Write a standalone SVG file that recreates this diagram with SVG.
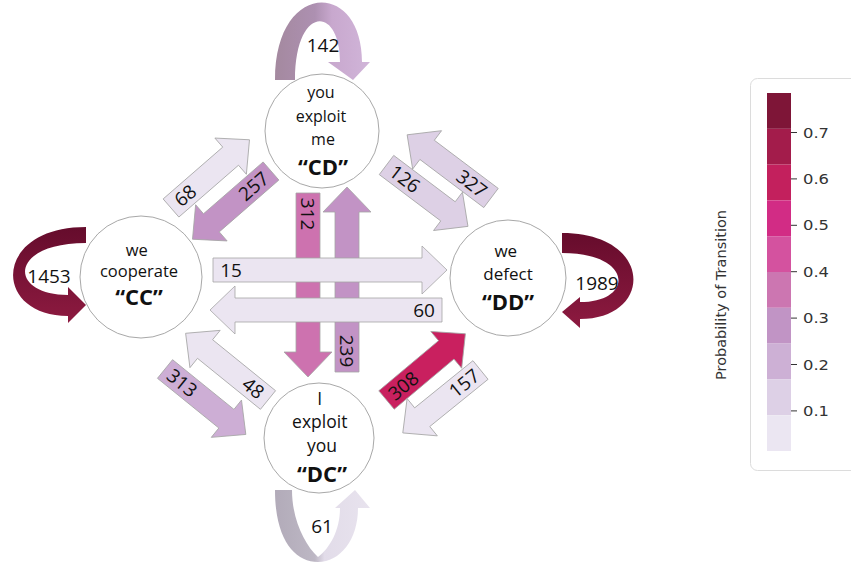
<svg xmlns="http://www.w3.org/2000/svg" width="851" height="562" viewBox="0 0 851 562">
  <defs>
    <!-- shading for the self-loop arrows -->
    <linearGradient id="gCD" x1="275" y1="0" x2="370" y2="0" gradientUnits="userSpaceOnUse">
      <stop offset="0" stop-color="#a4899f"/>
      <stop offset="0.42" stop-color="#ad90b1"/>
      <stop offset="0.6" stop-color="#c8a8ce"/>
      <stop offset="1" stop-color="#d1b5d9"/>
    </linearGradient>
    <linearGradient id="gCC" x1="0" y1="227" x2="0" y2="323" gradientUnits="userSpaceOnUse">
      <stop offset="0" stop-color="#650c2c"/>
      <stop offset="1" stop-color="#8d1a40"/>
    </linearGradient>
    <linearGradient id="gDD" x1="0" y1="233" x2="0" y2="328" gradientUnits="userSpaceOnUse">
      <stop offset="0" stop-color="#660c2c"/>
      <stop offset="1" stop-color="#8d1a40"/>
    </linearGradient>
    <linearGradient id="gDC" x1="275" y1="0" x2="370" y2="0" gradientUnits="userSpaceOnUse">
      <stop offset="0" stop-color="#b2abb9"/>
      <stop offset="0.42" stop-color="#bdb7c4"/>
      <stop offset="0.52" stop-color="#e2dce9"/>
      <stop offset="1" stop-color="#e8e3ee"/>
    </linearGradient>
  </defs>
  <style>
    .arr { stroke: #a5a5a5; stroke-width: 0.8; }
    .c1 { fill: #ebe5f1; }
    .c2 { fill: #ddd0e5; }
    .c3 { fill: #cdaed5; }
    .c4 { fill: #c293c5; }
    .c5 { fill: #cd72af; }
    .c8 { fill: #c9205f; }
    .lbl { font-family: "Open Sans", "Liberation Sans", sans-serif; font-size: 19px; fill: #111; text-anchor: middle; }
    .node circle { fill: #fff; stroke: #a8a8a8; stroke-width: 1; }
    .nt { font-family: "Open Sans", "Liberation Sans", sans-serif; fill: #111; text-anchor: middle; }
    .big { font-weight: bold; font-size: 22px; }
    .tick { stroke: #333; stroke-width: 1; }
    .tl { font-family: "DejaVu Sans", sans-serif; font-size: 14px; fill: #333; }
  </style>

  <g id="connectors">
    <!-- self loops -->
    <g id="loop-CD">
      <path fill="url(#gCD)" d="M275,80 C275,-20 362,-20 362,62 L370,62 L353,80 L328,62 L340,62 C340,5 295,5 295,80 Z"/>
      <text class="lbl" x="323" y="52">142</text>
    </g>
    <g id="loop-CC">
      <path fill="url(#gCC)" d="M86,227 C-8,227 -8,316 68,316 L68,323 L86,305 L68,287 L68,295 C8,295 8,243 86,243 Z"/>
      <text class="lbl" x="49" y="283">1453</text>
    </g>
    <g id="loop-DD">
      <path fill="url(#gDD)" d="M562,233 C654,233 654,319 580,319 L580,328 L562,312 L580,297 L580,302 C634,302 634,253 562,253 Z"/>
      <text class="lbl" x="597" y="290">1989</text>
    </g>
    <g id="loop-DC">
      <path fill="url(#gDC)" d="M275,490 C275,540 295,562 318,562 C340,562 358,540 358,508 L370,508 L355,490 L335,508 L340,508 C340,530 330,548 318,557 C305,545 292,520 292,490 Z"/>
      <text class="lbl" x="322" y="533">61</text>
    </g>

    <!-- vertical transitions -->
    <g transform="translate(308,193) rotate(90)">
      <path class="arr c5" d="M0,-12H159V-24L184,0L159,24V12H0Z"/>
      <text class="lbl" transform="translate(21,0)" y="6.8">312</text>
    </g>
    <g transform="translate(347,372) rotate(-90)">
      <path class="arr c4" d="M0,-12H160V-24L185,0L160,24V12H0Z"/>
      <text class="lbl" transform="translate(21,0) rotate(180)" y="6.8">239</text>
    </g>

    <!-- horizontal transitions -->
    <g transform="translate(213,270)">
      <path class="arr c1" d="M0,-12H209V-24L234,0L209,24V12H0Z"/>
      <text class="lbl" transform="translate(18,0)" y="6.8">15</text>
    </g>
    <g transform="translate(442,310) rotate(180)">
      <path class="arr c1" d="M0,-12H207V-24L232,0L207,24V12H0Z"/>
      <text class="lbl" transform="translate(18,0) rotate(180)" y="6.8">60</text>
    </g>

    <!-- diagonal transitions -->
    <g transform="translate(171,208) rotate(-41)">
      <path class="arr c1" d="M0,-12H79V-24L104,0L79,24V12H0Z"/>
      <text class="lbl" transform="translate(19,0)" y="6.8">68</text>
    </g>
    <g transform="translate(271,171) rotate(139)">
      <path class="arr c4" d="M0,-12H79V-24L104,0L79,24V12H0Z"/>
      <text class="lbl" transform="translate(23,0) rotate(180)" y="6.8">257</text>
    </g>
    <g transform="translate(386.5,165) rotate(37)">
      <path class="arr c2" d="M0,-12H77V-24L102,0L77,24V12H0Z"/>
      <text class="lbl" transform="translate(23,0)" y="6.8">126</text>
    </g>
    <g transform="translate(491,198) rotate(217)">
      <path class="arr c2" d="M0,-12H80V-24L105,0L80,24V12H0Z"/>
      <text class="lbl" transform="translate(24,0) rotate(180)" y="6.8">327</text>
    </g>
    <g transform="translate(165,369) rotate(39)">
      <path class="arr c3" d="M0,-12H79V-24L104,0L79,24V12H0Z"/>
      <text class="lbl" transform="translate(22,0)" y="6.8">313</text>
    </g>
    <g transform="translate(268,400) rotate(219)">
      <path class="arr c1" d="M0,-12H81V-24L106,0L81,24V12H0Z"/>
      <text class="lbl" transform="translate(19,0) rotate(180)" y="6.8">48</text>
    </g>
    <g transform="translate(386.5,400) rotate(-40)">
      <path class="arr c8" d="M0,-12H78V-24L103,0L78,24V12H0Z"/>
      <text class="lbl" transform="translate(22,0)" y="6.8">308</text>
    </g>
    <g transform="translate(480.5,370) rotate(141)">
      <path class="arr c1" d="M0,-12H75V-24L100,0L75,24V12H0Z"/>
      <text class="lbl" transform="translate(21,0) rotate(180)" y="6.8">157</text>
    </g>
  </g>

  <!-- states -->
  <g id="CD" class="node">
    <circle cx="322" cy="131" r="57"/>
    <text class="nt" font-size="16">
      <tspan x="323" y="98">you</tspan>
      <tspan x="323" y="122">exploit</tspan>
      <tspan x="323" y="145">me</tspan>
    </text>
    <text class="nt big" x="323" y="175">“CD”</text>
  </g>
  <g id="CC" class="node">
    <circle cx="141" cy="277" r="61"/>
    <text class="nt" font-size="16.5">
      <tspan x="139" y="256">we</tspan>
      <tspan x="139" y="277">cooperate</tspan>
    </text>
    <text class="nt big" x="139" y="305">“CC”</text>
  </g>
  <g id="DD" class="node">
    <circle cx="508" cy="278" r="58"/>
    <text class="nt" font-size="17">
      <tspan x="508" y="257">we</tspan>
      <tspan x="508" y="280">defect</tspan>
    </text>
    <text class="nt big" x="508" y="310">“DD”</text>
  </g>
  <g id="DC" class="node">
    <circle cx="319" cy="438" r="55"/>
    <text class="nt" font-size="17.5">
      <tspan x="322" y="405">I</tspan>
      <tspan x="322" y="428">exploit</tspan>
      <tspan x="322" y="452">you</tspan>
    </text>
    <text class="nt big" x="322" y="482">“DC”</text>
  </g>

  <!-- colour scale -->
  <g id="colorbar">
    <rect x="750.5" y="78.5" width="115" height="392" rx="7" fill="none" stroke="#dcdcdc"/>
    <rect x="767" y="93" width="24" height="35.8" fill="#7e1537"/>
    <rect x="767" y="128.8" width="24" height="35.8" fill="#a31c4b"/>
    <rect x="767" y="164.6" width="24" height="35.8" fill="#c3205d"/>
    <rect x="767" y="200.4" width="24" height="35.8" fill="#d22c85"/>
    <rect x="767" y="236.2" width="24" height="35.8" fill="#d4529f"/>
    <rect x="767" y="272" width="24" height="35.8" fill="#cc76b1"/>
    <rect x="767" y="307.8" width="24" height="35.8" fill="#c194c5"/>
    <rect x="767" y="343.6" width="24" height="35.8" fill="#cdb0d5"/>
    <rect x="767" y="379.4" width="24" height="35.8" fill="#ddd0e6"/>
    <rect x="767" y="415.2" width="24" height="35.8" fill="#ebe6f2"/>
    <g class="tick">
      <line x1="791" y1="132.5" x2="797" y2="132.5"/>
      <line x1="791" y1="178.9" x2="797" y2="178.9"/>
      <line x1="791" y1="225.3" x2="797" y2="225.3"/>
      <line x1="791" y1="271.7" x2="797" y2="271.7"/>
      <line x1="791" y1="318.1" x2="797" y2="318.1"/>
      <line x1="791" y1="364.5" x2="797" y2="364.5"/>
      <line x1="791" y1="410.9" x2="797" y2="410.9"/>
    </g>
    <text class="tl" x="803" y="137.5" textLength="26" lengthAdjust="spacingAndGlyphs">0.7</text>
    <text class="tl" x="803" y="183.9" textLength="26" lengthAdjust="spacingAndGlyphs">0.6</text>
    <text class="tl" x="803" y="230.3" textLength="26" lengthAdjust="spacingAndGlyphs">0.5</text>
    <text class="tl" x="803" y="276.7" textLength="26" lengthAdjust="spacingAndGlyphs">0.4</text>
    <text class="tl" x="803" y="323.1" textLength="26" lengthAdjust="spacingAndGlyphs">0.3</text>
    <text class="tl" x="803" y="369.5" textLength="26" lengthAdjust="spacingAndGlyphs">0.2</text>
    <text class="tl" x="803" y="415.9" textLength="26" lengthAdjust="spacingAndGlyphs">0.1</text>
    <text class="tl" font-size="13" text-anchor="middle" transform="translate(726,295) rotate(-90)" textLength="170" lengthAdjust="spacingAndGlyphs">Probability of Transition</text>
  </g>
</svg>
